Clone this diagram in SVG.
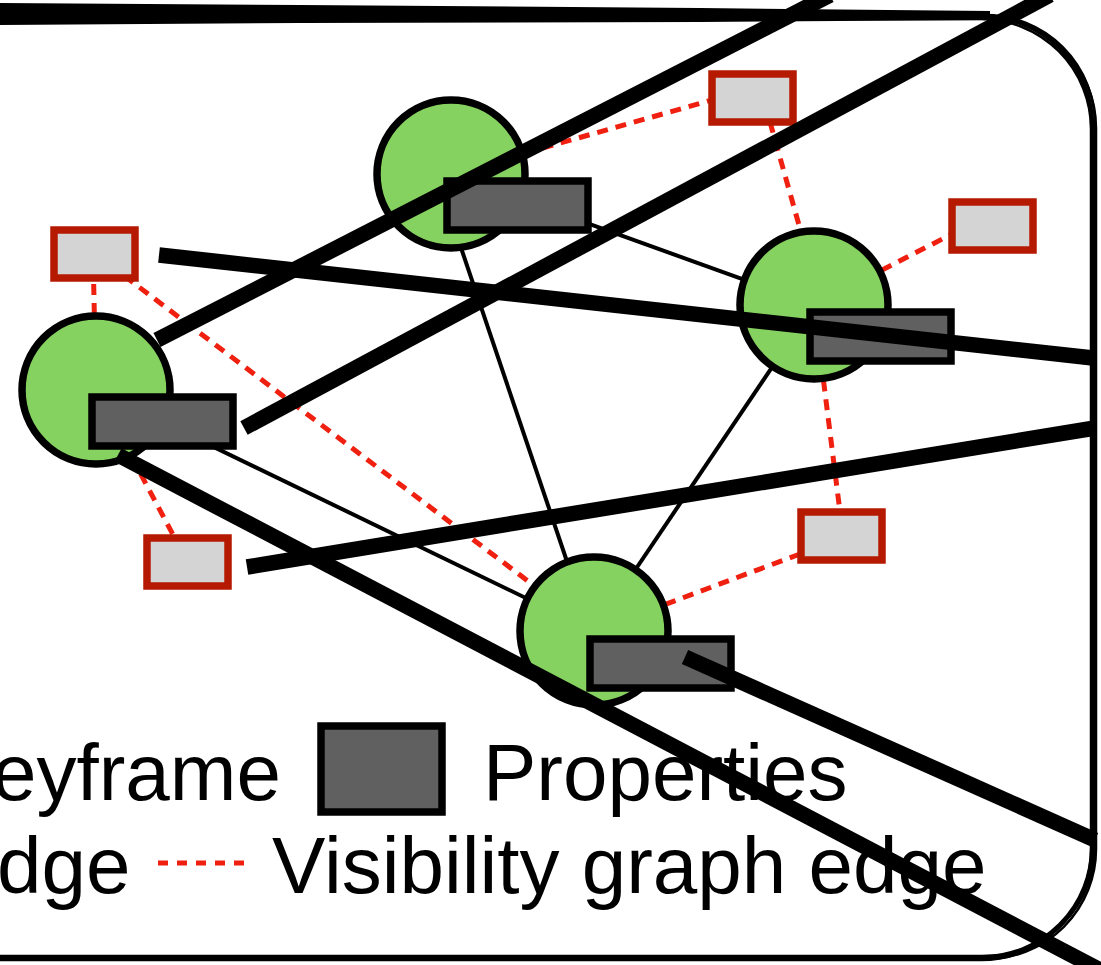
<svg xmlns="http://www.w3.org/2000/svg" width="1101" height="965" viewBox="0 0 1101 965">
<defs>
<style>
.kf{fill:#85d260;stroke:#000;stroke-width:7.5}
.prop{fill:#606060;stroke:#000;stroke-width:7.5}
.vis{fill:#d4d4d4;stroke:#b51a00;stroke-width:7.5}
.edge{stroke:#000;stroke-width:4;fill:none}
.vedge{stroke:#f02010;stroke-width:5;stroke-dasharray:11 8;fill:none}
.thick{stroke:#000;stroke-width:15.5;fill:none;stroke-linecap:butt}
.border{fill:none;stroke:#000;stroke-width:2.5}
.lbl{font-family:"Liberation Sans",Arial,sans-serif;font-size:80px;fill:#000}
</style>
<path id="frame" d="M -20 17 L 983 17 A 110 110 0 0 1 1093 127 L 1093 848 A 110 110 0 0 1 983 958 L -20 958"/>
</defs>
<rect width="1101" height="965" fill="#fff"/>
<g id="border">
<use href="#frame" class="border"/>
<use href="#frame" class="border" transform="translate(2,-2)"/>
<use href="#frame" class="border" transform="translate(-2,2)"/>
<use href="#frame" class="border" transform="translate(3,1)"/>
<use href="#frame" class="border" style="stroke-width:4" transform="translate(-1,-1)"/>
<path d="M -10 3 L 300 5 L 700 8 L 990 11 L 990 20 L 700 22 L 300 23 L -10 25 Z" fill="#000"/>
</g>
<g id="connectors">
<line class="edge" x1="96" y1="390" x2="594" y2="631"/>
<line class="edge" x1="455" y1="230" x2="580" y2="600"/>
<line class="edge" x1="451" y1="174" x2="814" y2="305"/>
<line class="edge" x1="814" y1="305" x2="594" y2="631"/>
<line class="vedge" x1="96" y1="390" x2="93" y2="253"/>
<line class="vedge" x1="94" y1="253" x2="594" y2="631"/>
<line class="vedge" x1="96" y1="390" x2="187" y2="561"/>
<line class="vedge" x1="451" y1="174" x2="712" y2="100"/>
<line class="vedge" x1="770" y1="122" x2="806" y2="250"/>
<line class="vedge" x1="814" y1="305" x2="952" y2="234"/>
<line class="vedge" x1="814" y1="305" x2="840" y2="512"/>
<line class="vedge" x1="594" y1="631" x2="800" y2="554"/>
</g>
<g id="kfA"><circle class="kf" cx="96" cy="390" r="74"/><rect class="prop" x="92" y="397" width="141" height="49"/></g>
<g id="kfB"><circle class="kf" cx="451" cy="174" r="74"/><rect class="prop" x="447" y="181" width="141" height="49"/></g>
<g id="kfC"><circle class="kf" cx="814" cy="305" r="74"/><rect class="prop" x="810" y="312" width="141" height="49"/></g>
<g id="kfD"><circle class="kf" cx="594" cy="631" r="74"/><rect class="prop" x="590" y="639" width="141" height="49"/></g>
<g id="visTL"><rect class="vis" x="54" y="230" width="81" height="48"/></g>
<g id="visBL"><rect class="vis" x="147" y="538" width="81" height="48"/></g>
<g id="visTR"><rect class="vis" x="712" y="74" width="81" height="48"/></g>
<g id="visR"><rect class="vis" x="952" y="202" width="81" height="48"/></g>
<g id="visBR"><rect class="vis" x="801" y="512" width="81" height="48"/></g>
<g id="thick-lines">
<line class="thick" x1="157" y1="340" x2="830" y2="-5"/>
<line class="thick" x1="244" y1="428" x2="1050" y2="-5"/>
<line class="thick" x1="159" y1="255" x2="1093" y2="358"/>
<line class="thick" x1="247" y1="567" x2="1095" y2="428"/>
<line class="thick" x1="118" y1="455" x2="1100" y2="970"/>
<line class="thick" x1="685" y1="657" x2="1095" y2="840"/>
</g>
<g id="legend">
<text class="lbl" x="-8" y="800">eyframe</text>
<rect class="prop" x="321" y="726" width="121" height="86"/>
<text class="lbl" x="483" y="800">Properties</text>
<text class="lbl" x="-3" y="893">dge</text>
<line class="vedge" x1="158" y1="863" x2="248" y2="863" style="stroke-dasharray:10 9"/>
<text class="lbl" x="272" y="893">Visibility graph edge</text>
</g>
</svg>
